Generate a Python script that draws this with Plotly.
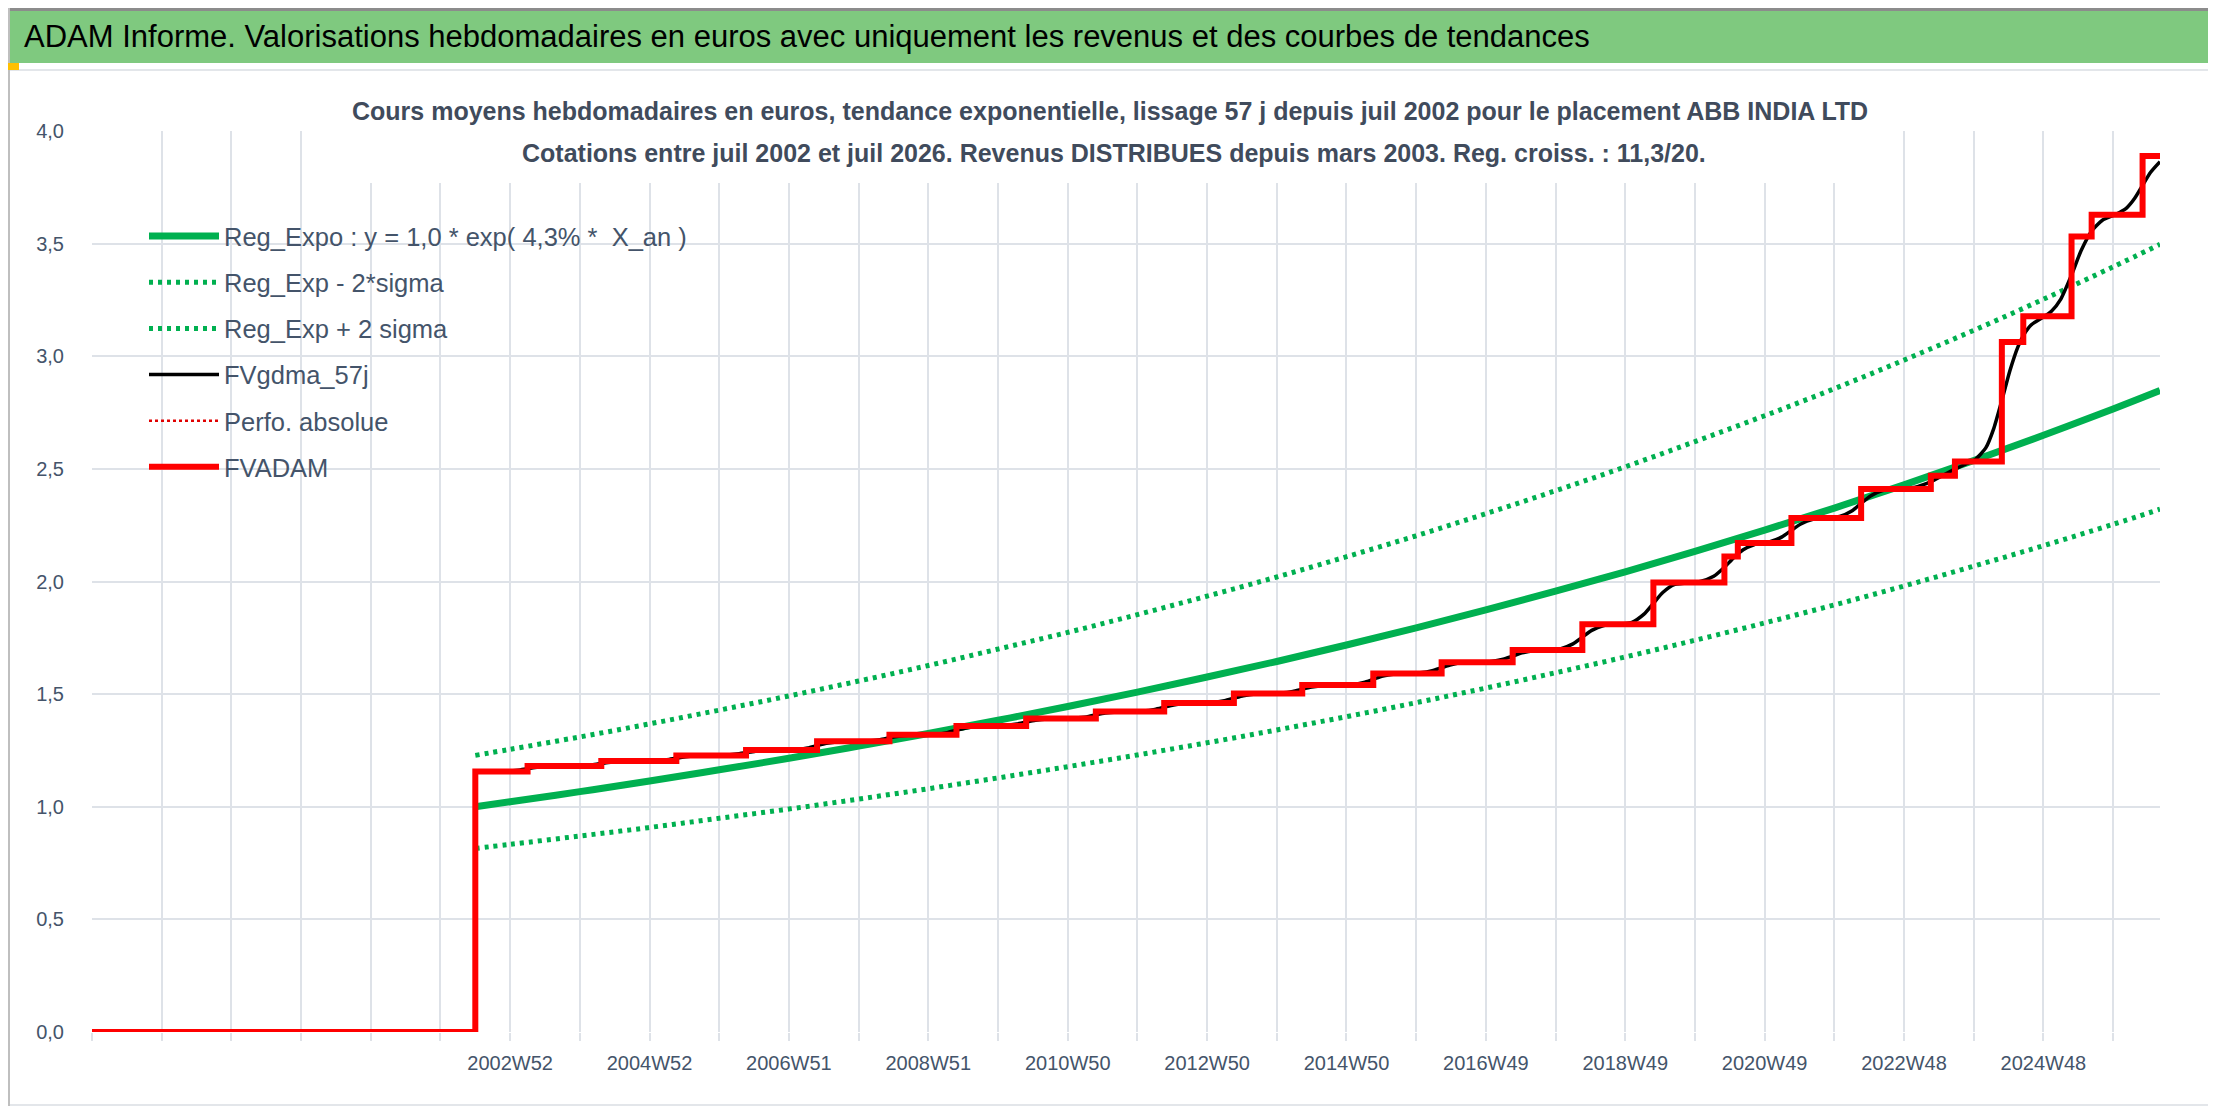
import numpy as np
import pandas as pd
import plotly.graph_objects as go

# ---------------- data ----------------
N_WEEKS = 1544                      # weekly categories on the axis
FIRST_WEEK = "1996-12-30"           # first category (ISO week 1997W01)
DATA_START = 286                    # first quoted week (juil 2002)

_dates = pd.Timestamp(FIRST_WEEK) + pd.to_timedelta(np.arange(N_WEEKS) * 7, unit="D")
_iso = _dates.isocalendar()
week_labels = [f"{y}W{w:02d}" for y, w in zip(_iso.year, _iso.week)]

# FVADAM (step series): week index of each change and new level
adam_x = [0, 286, 325, 380, 436, 488, 541, 595, 645, 697, 749, 800, 852, 903, 956,
          1007, 1060, 1112, 1165, 1218, 1228, 1268, 1320, 1372, 1390, 1425, 1441,
          1477, 1492, 1530, 1543]
adam_y = [0.0, 1.156, 1.181, 1.203, 1.228, 1.252, 1.291, 1.320, 1.359, 1.392, 1.423,
          1.461, 1.503, 1.540, 1.592, 1.642, 1.696, 1.810, 1.996, 2.111, 2.171, 2.282,
          2.411, 2.470, 2.533, 3.063, 3.178, 3.532, 3.628, 3.889, 3.889]

# FVgdma_57j (smoothed series): leading zero part, then points
gdma_lead_x = [0, 286, 286]
gdma_lead_y = [0.0, 0.0, 1.156]
gdma_x = [286,
          309, 318, 325, 332, 341,
          364, 373, 380, 387, 396,
          420, 429, 436, 443, 452,
          472, 481, 488, 495, 504,
          525, 534, 541, 548, 557,
          579, 588, 595, 602, 611,
          629, 638, 645, 652, 661,
          681, 690, 697, 704, 713,
          733, 742, 749, 756, 765,
          784, 793, 800, 807, 816,
          836, 845, 852, 859, 868,
          887, 896, 903, 910, 919,
          940, 949, 956, 963, 972,
          991, 1000, 1007, 1014, 1023,
          1044, 1053, 1060, 1067, 1076,
          1096, 1105, 1112, 1119, 1128,
          1149, 1158, 1165, 1172, 1181,
          1200, 1210, 1218, 1225, 1232, 1240,
          1252, 1261, 1268, 1275, 1284,
          1304, 1313, 1320, 1327, 1336,
          1352, 1362, 1372, 1381, 1390, 1398, 1405, 1413, 1419, 1425, 1431,
          1437, 1441, 1447, 1455, 1462, 1469, 1477, 1484, 1492, 1500, 1510,
          1518, 1524, 1530, 1536, 1543]
gdma_y = [1.156,
          1.157, 1.162, 1.169, 1.175, 1.180,
          1.182, 1.186, 1.192, 1.198, 1.202,
          1.204, 1.209, 1.216, 1.222, 1.227,
          1.229, 1.234, 1.240, 1.246, 1.251,
          1.254, 1.261, 1.272, 1.282, 1.289,
          1.292, 1.298, 1.306, 1.313, 1.319,
          1.322, 1.329, 1.340, 1.350, 1.357,
          1.361, 1.367, 1.376, 1.384, 1.390,
          1.394, 1.399, 1.408, 1.416, 1.421,
          1.425, 1.432, 1.442, 1.452, 1.459,
          1.463, 1.471, 1.482, 1.493, 1.501,
          1.505, 1.512, 1.522, 1.531, 1.538,
          1.543, 1.552, 1.566, 1.580, 1.589,
          1.595, 1.604, 1.617, 1.630, 1.640,
          1.645, 1.655, 1.669, 1.683, 1.693,
          1.702, 1.723, 1.753, 1.783, 1.804,
          1.819, 1.855, 1.903, 1.951, 1.987,
          2.000, 2.023, 2.063, 2.106, 2.141, 2.163,
          2.177, 2.198, 2.227, 2.255, 2.276,
          2.289, 2.313, 2.347, 2.380, 2.404,
          2.412, 2.421, 2.443, 2.471, 2.499, 2.521, 2.541, 2.593, 2.680, 2.804, 2.936,
          3.042, 3.092, 3.140, 3.171, 3.200, 3.254, 3.361, 3.467, 3.556, 3.604, 3.630,
          3.658, 3.700, 3.759, 3.817, 3.864]

# Regression curves, read once a year
reg_x = [286, 312, 364, 416, 468, 520, 572, 624, 676, 728, 780, 832, 884, 936, 988,
         1040, 1092, 1144, 1196, 1248, 1300, 1352, 1404, 1456, 1508, 1543]
reg_expo = [1.000, 1.022, 1.067, 1.114, 1.164, 1.215, 1.269, 1.325, 1.384, 1.445, 1.509,
            1.576, 1.645, 1.718, 1.794, 1.874, 1.957, 2.043, 2.134, 2.228, 2.326, 2.429,
            2.537, 2.649, 2.766, 2.848]
reg_minus = [0.815, 0.833, 0.870, 0.908, 0.949, 0.990, 1.034, 1.080, 1.128, 1.178, 1.230,
             1.284, 1.341, 1.400, 1.462, 1.527, 1.595, 1.665, 1.739, 1.816, 1.896, 1.980,
             2.068, 2.159, 2.254, 2.321]
reg_plus = [1.228, 1.255, 1.310, 1.368, 1.429, 1.492, 1.558, 1.627, 1.700, 1.774, 1.853,
            1.935, 2.020, 2.110, 2.203, 2.301, 2.403, 2.509, 2.621, 2.736, 2.856, 2.983,
            3.115, 3.253, 3.397, 3.497]

y_ticks = [0.0, 0.5, 1.0, 1.5, 2.0, 2.5, 3.0, 3.5, 4.0]
GRID_STEP = 52
LABEL_STEP = 104

TITLE = "ADAM Informe. Valorisations hebdomadaires en euros avec uniquement les revenus et des courbes de tendances"
SUB1 = "Cours moyens hebdomadaires en euros, tendance exponentielle, lissage 57 j depuis juil 2002 pour le placement ABB INDIA LTD"
SUB2 = "Cotations entre juil 2002 et juil 2026. Revenus DISTRIBUES depuis mars 2003. Reg. croiss. : 11,3/20."

# ---------------- styling / layout ----------------
W, H = 2216, 1106
PL, PR, PT, PB = 84, 2152, 123, 1024
FONT = "Liberation Sans, Arial, sans-serif"
GREEN = "#00B050"
GRID = "#DEE2E8"
TXT = "#44546A"


def fx(p):
    return (p - PL) / (PR - PL)


def fy(p):
    return (PB - p) / (PB - PT)


fig = go.Figure()
fig.add_trace(go.Scatter(x=reg_x, y=reg_expo, mode="lines", name="Reg_Expo : y = 1,0 * exp( 4,3% *  X_an )",
                         line=dict(color=GREEN, width=7, shape="spline"), legendgroup="a"))
fig.add_trace(go.Scatter(x=reg_x, y=reg_minus, mode="lines", name="Reg_Exp - 2*sigma",
                         line=dict(color=GREEN, width=5, dash="4px,5px", shape="spline"), legendgroup="b"))
fig.add_trace(go.Scatter(x=reg_x, y=reg_plus, mode="lines", name="Reg_Exp + 2 sigma",
                         line=dict(color=GREEN, width=5, dash="4px,5px", shape="spline"), legendgroup="c"))
fig.add_trace(go.Scatter(x=gdma_lead_x, y=gdma_lead_y, mode="lines", showlegend=False, hoverinfo="skip",
                         line=dict(color="#000000", width=3.5), legendgroup="d"))
fig.add_trace(go.Scatter(x=gdma_x, y=gdma_y, mode="lines", name="FVgdma_57j",
                         line=dict(color="#000000", width=3.5, shape="spline", smoothing=0.6), legendgroup="d"))
fig.add_trace(go.Scatter(x=adam_x, y=adam_y, mode="lines", name="Perfo. absolue",
                         line=dict(color="#E00000", width=2.5, dash="dot", shape="hv"), legendgroup="e"))
fig.add_trace(go.Scatter(x=adam_x, y=adam_y, mode="lines", name="FVADAM",
                         line=dict(color="#FF0000", width=6, shape="hv"), legendgroup="f"))

tickvals = list(range(0, N_WEEKS, GRID_STEP))
ticktext = [week_labels[i] if (i >= DATA_START and i % LABEL_STEP == 0) else "" for i in tickvals]

shapes = []


def rect(x0, y0, x1, y1, color, layer="above"):
    shapes.append(dict(type="rect", xref="paper", yref="paper", x0=fx(x0), x1=fx(x1),
                       y0=fy(y1), y1=fy(y0), fillcolor=color, line=dict(width=0), layer=layer))


# chart frame decorations
rect(0, 0, W, 3, "#8C8C8C")
rect(0, 3, W, 55, "#7FC97F")
rect(0, 61, 2202, 63, "#E3E6EA")
rect(2201, 61, 2203, 1098, "#E3E6EA")
rect(0, 1096, 2202, 1098, "#E3E6EA")
rect(0, 0, 2, H, "#BFBFBF")
rect(2213, 55, W, H, "#BFBFBF")
rect(0, 1103, W, H, "#8C8C8C")
rect(0, 55, 11, 62, "#FFC000")
rect(2204, 55, W, 74, "#FFC000")
rect(2204, 1062, W, H, "#FFC000")
rect(0, 1099, 11, H, "#FFC000")
rect(883, 1103, 1028, H, "#E6DC3C")
rect(1316, 1103, 1472, H, "#E6DC3C")
# white box behind the chart title
rect(341, 80, 1866, 175, "#FFFFFF")

annotations = [
    dict(text=TITLE, x=fx(14), y=fy(29), xref="paper", yref="paper", xanchor="left", yanchor="middle",
         showarrow=False, font=dict(family=FONT, size=31, color="#000000")),
    dict(text="<b>" + SUB1 + "</b>", x=fx(1102), y=fy(103), xref="paper", yref="paper", xanchor="center",
         yanchor="middle", showarrow=False, font=dict(family=FONT, size=25, color="#404B5C")),
    dict(text="<b>" + SUB2 + "</b>", x=fx(1106), y=fy(145), xref="paper", yref="paper", xanchor="center",
         yanchor="middle", showarrow=False, font=dict(family=FONT, size=25, color="#404B5C")),
]

fig.update_layout(
    width=W, height=H,
    margin=dict(l=PL, r=W - PR, t=PT, b=H - PB, pad=0),
    paper_bgcolor="#FFFFFF", plot_bgcolor="#FFFFFF",
    separators=", ",
    font=dict(family=FONT, color=TXT),
    shapes=shapes,
    annotations=annotations,
    showlegend=True,
    legend=dict(x=fx(136), y=fy(205), xanchor="left", yanchor="top", bgcolor="rgba(0,0,0,0)",
                font=dict(family=FONT, size=25.5, color=TXT), tracegroupgap=10, itemwidth=70,
                traceorder="grouped"),
    xaxis=dict(range=[0, N_WEEKS - 1], tickmode="array", tickvals=tickvals, ticktext=ticktext,
               showgrid=True, gridcolor=GRID, gridwidth=2, zeroline=False, showline=False,
               ticks="outside", ticklen=8, tickwidth=2, tickcolor=GRID, tickangle=0,
               ticklabelstandoff=5, tickfont=dict(family=FONT, size=20, color=TXT)),
    yaxis=dict(range=[0, 4], tickmode="array", tickvals=y_ticks, tickformat=".1f",
               showgrid=True, gridcolor=GRID, gridwidth=2, zeroline=False, showline=False,
               ticks="", ticklabelstandoff=27, tickfont=dict(family=FONT, size=20, color=TXT)),
)

fig.write_html("out.html")
